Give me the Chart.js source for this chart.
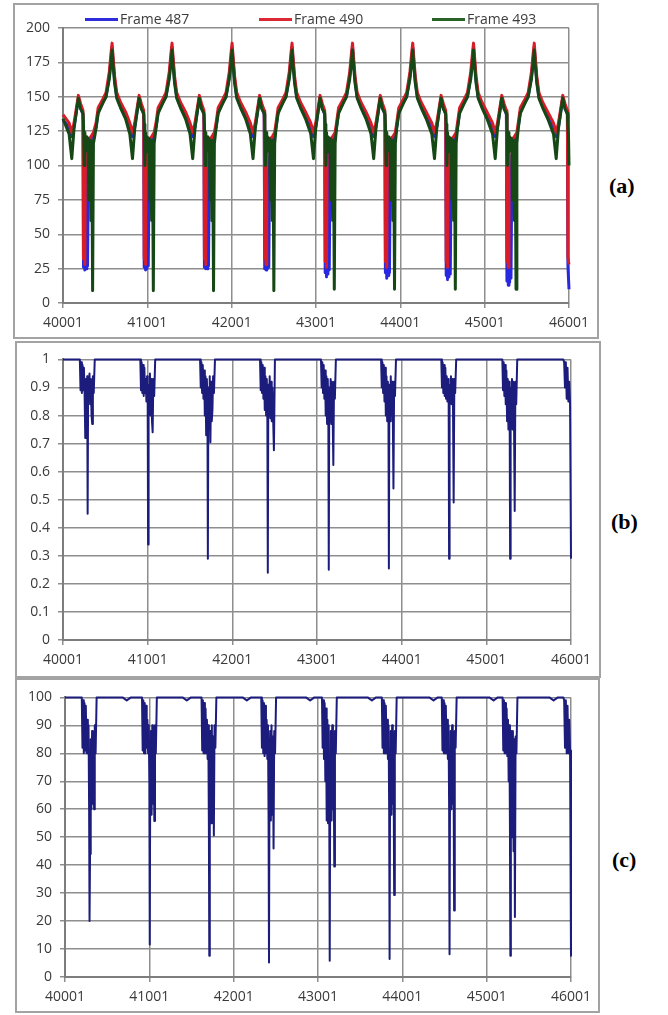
<!DOCTYPE html>
<html>
<head>
<meta charset="utf-8">
<title>Frame comparison</title>
<script src="https://cdn.jsdelivr.net/npm/chart.js@4.4.0/dist/chart.umd.min.js"></script>
<style>
  body { margin: 0; background: #fff; width: 668px; height: 1015px; position: relative; overflow: hidden; font-family: "Open Sans", sans-serif; }
  .box { position: absolute; border: 2px solid #a3a3a3; box-sizing: border-box; }
  canvas { position: absolute; }
  .leg { position: absolute; width: 33px; height: 3px; }
  .legtxt { position: absolute; top: 10px; font-size: 14px; line-height: 18px; color: #3c3c3c; white-space: nowrap; }
  .tag { position: absolute; font: bold 22px "Liberation Serif", "Times New Roman", serif; line-height: 22px; color: #000; }
</style>
</head>
<body>

<div class="box" style="left:13px;top:3px;width:586px;height:336px"></div>
<div class="box" style="left:15px;top:341px;width:586px;height:337px"></div>
<div class="box" style="left:15px;top:678px;width:585px;height:335px"></div>

<canvas id="chartA" width="582" height="332" style="left:15px;top:5px"></canvas>
<canvas id="chartB" width="582" height="333" style="left:17px;top:343px"></canvas>
<canvas id="chartC" width="581" height="330" style="left:17px;top:681px"></canvas>

<!-- legend of panel (a) -->
<div class="leg" style="left:85px;top:18px;background:rgb(45,45,220)"></div>
<span class="legtxt" style="left:120px">Frame 487</span>
<div class="leg" style="left:259px;top:18px;background:rgb(220,40,50)"></div>
<span class="legtxt" style="left:294px">Frame 490</span>
<div class="leg" style="left:432px;top:18px;background:rgb(40,100,40)"></div>
<span class="legtxt" style="left:467px">Frame 493</span>

<div class="tag" style="left:609px;top:175px">(a)</div>
<div class="tag" style="left:611px;top:511px">(b)</div>
<div class="tag" style="left:612px;top:849px">(c)</div>

<script>
// axis ticks
const xTicks = [40001, 41001, 42001, 43001, 44001, 45001, 46001];
const yTicksA = [0, 25, 50, 75, 100, 125, 150, 175, 200];
const yTicksB = [0, 0.1, 0.2, 0.3, 0.4, 0.5, 0.6, 0.7, 0.8, 0.9, 1];
const yTicksC = [0, 10, 20, 30, 40, 50, 60, 70, 80, 90, 100];

// panel (a): frame positions shared by the three frames
const xA = [
  40001, 40073, 40105, 40132, 40183, 40210,
  40238, 40244, 40252, 40260, 40268, 40276, 40284, 40292, 40302, 40312, 40322, 40332, 40342, 40352, 40362,
  40393, 40418, 40471, 40511, 40550, 40571, 40583, 40595, 40613, 40638, 40683, 40743, 40793, 40825, 40852, 40903, 40930,
  40958, 40964, 40972, 40980, 40988, 40996, 41004, 41012, 41022, 41032, 41042, 41052, 41062, 41072, 41082,
  41104, 41129, 41182, 41222, 41261, 41282, 41294, 41306, 41324, 41349, 41394, 41454, 41507, 41539, 41566, 41617, 41644,
  41672, 41678, 41686, 41694, 41702, 41710, 41718, 41726, 41736, 41746, 41756, 41766, 41776, 41786, 41796,
  41816, 41841, 41894, 41934, 41973, 41994, 42006, 42018, 42036, 42061, 42106, 42166, 42222, 42254, 42281, 42332, 42359,
  42387, 42393, 42401, 42409, 42417, 42425, 42433, 42441, 42451, 42461, 42471, 42481, 42491, 42501, 42511,
  42527, 42552, 42605, 42645, 42684, 42705, 42717, 42729, 42747, 42772, 42817, 42877, 42939, 42971, 42998, 43049, 43076,
  43104, 43110, 43118, 43126, 43134, 43142, 43150, 43158, 43168, 43178, 43188, 43198, 43208, 43218, 43228,
  43244, 43269, 43322, 43362, 43401, 43422, 43434, 43446, 43464, 43489, 43534, 43594, 43653, 43685, 43712, 43763, 43790,
  43818, 43824, 43832, 43840, 43848, 43856, 43864, 43872, 43882, 43892, 43902, 43912, 43922, 43932, 43942,
  43958, 43983, 44036, 44076, 44115, 44136, 44148, 44160, 44178, 44203, 44248, 44308, 44374, 44406, 44433, 44484, 44511,
  44539, 44545, 44553, 44561, 44569, 44577, 44585, 44593, 44603, 44613, 44623, 44633, 44643, 44653, 44663,
  44679, 44704, 44757, 44797, 44836, 44857, 44869, 44881, 44899, 44924, 44969, 45029, 45094, 45126, 45153, 45204, 45231,
  45259, 45265, 45273, 45281, 45289, 45297, 45305, 45313, 45323, 45333, 45343, 45353, 45363, 45373, 45383,
  45399, 45424, 45477, 45517, 45556, 45577, 45589, 45601, 45619, 45644, 45689, 45749, 45817, 45849, 45876, 45927, 45954,
  45982, 45988, 45995, 46001
];

const frame487 = [
  133, 128, 121, 128, 149, 142,
  137, 26, 118, 24, 112, 25, 100, 27, 98, 116, 118, 119, 120, 121, 122,
  128, 139, 146, 150, 165, 178, 186, 176, 162, 150, 143, 136, 128, 121, 128, 149, 142,
  137, 26, 118, 24, 112, 25, 100, 27, 98, 116, 118, 119, 120, 121, 122,
  128, 139, 146, 150, 165, 178, 186, 176, 162, 150, 143, 136, 128, 121, 128, 149, 142,
  137, 26, 118, 25, 112, 25, 100, 27, 98, 116, 118, 119, 120, 121, 122,
  128, 139, 146, 150, 165, 178, 186, 176, 162, 150, 143, 136, 128, 121, 128, 149, 142,
  137, 25, 118, 24, 112, 25, 100, 26, 98, 116, 118, 119, 120, 121, 122,
  128, 139, 146, 150, 165, 178, 186, 176, 162, 150, 143, 136, 128, 121, 128, 149, 142,
  137, 22, 115, 19, 110, 21, 98, 24, 98, 116, 118, 119, 120, 121, 122,
  128, 139, 146, 150, 165, 178, 186, 176, 162, 150, 143, 136, 128, 121, 128, 149, 142,
  137, 22, 115, 18, 110, 20, 98, 22, 98, 116, 118, 119, 120, 121, 122,
  128, 139, 146, 150, 165, 178, 186, 176, 162, 150, 143, 136, 128, 121, 128, 149, 142,
  137, 20, 115, 17, 108, 19, 96, 21, 97, 116, 118, 119, 120, 121, 122,
  128, 139, 146, 150, 165, 178, 186, 176, 162, 150, 143, 136, 128, 121, 128, 149, 142,
  137, 16, 112, 13, 108, 15, 95, 18, 97, 116, 118, 119, 120, 121, 122,
  128, 139, 146, 150, 165, 178, 186, 176, 162, 150, 143, 136, 128, 121, 128, 149, 142,
  137, 28, 18, 10
];

const frame490 = [
  137, 131, 124, 131, 151, 145,
  140, 32, 110, 28, 116, 117, 118, 119, 119, 120, 120, 121, 122, 123, 124,
  131, 142, 148, 153, 168, 182, 189, 179, 165, 153, 146, 139, 131, 124, 131, 151, 145,
  140, 32, 110, 28, 116, 117, 118, 119, 119, 120, 120, 121, 122, 123, 124,
  131, 142, 148, 153, 168, 182, 189, 179, 165, 153, 146, 139, 131, 124, 131, 151, 145,
  140, 32, 110, 28, 116, 117, 118, 119, 119, 120, 120, 121, 122, 123, 124,
  131, 142, 148, 153, 168, 182, 189, 179, 165, 153, 146, 139, 131, 124, 131, 151, 145,
  140, 32, 110, 28, 116, 117, 118, 119, 119, 120, 120, 121, 122, 123, 124,
  131, 142, 148, 153, 168, 182, 189, 179, 165, 153, 146, 139, 131, 124, 131, 151, 145,
  140, 30, 108, 26, 115, 117, 118, 119, 119, 120, 120, 121, 122, 123, 124,
  131, 142, 148, 153, 168, 182, 189, 179, 165, 153, 146, 139, 131, 124, 131, 151, 145,
  140, 30, 108, 26, 115, 117, 118, 119, 119, 120, 120, 121, 122, 123, 124,
  131, 142, 148, 153, 168, 182, 189, 179, 165, 153, 146, 139, 131, 124, 131, 151, 145,
  140, 30, 106, 26, 114, 117, 118, 119, 119, 120, 120, 121, 122, 123, 124,
  131, 142, 148, 153, 168, 182, 189, 179, 165, 153, 146, 139, 131, 124, 131, 151, 145,
  140, 30, 106, 26, 114, 117, 118, 119, 119, 120, 120, 121, 122, 123, 124,
  131, 142, 148, 153, 168, 182, 189, 179, 165, 153, 146, 139, 131, 124, 131, 151, 145,
  140, 34, 30, 28
];

const frame493 = [
  134, 123, 105, 127, 149, 141,
  138, 130, 100, 124, 110, 121, 118, 120, 119, 75, 118, 60, 118, 9, 116,
  127, 138, 145, 150, 163, 175, 184, 173, 160, 149, 142, 134, 123, 105, 127, 149, 141,
  138, 130, 100, 124, 110, 121, 118, 120, 119, 75, 118, 60, 118, 9, 116,
  127, 138, 145, 150, 163, 175, 184, 173, 160, 149, 142, 134, 123, 105, 127, 149, 141,
  138, 130, 100, 124, 110, 121, 118, 120, 119, 75, 118, 60, 118, 9, 116,
  127, 138, 145, 150, 163, 175, 184, 173, 160, 149, 142, 134, 123, 105, 127, 149, 141,
  138, 130, 100, 124, 110, 121, 118, 120, 119, 75, 118, 60, 118, 9, 116,
  127, 138, 145, 150, 163, 175, 184, 173, 160, 149, 142, 134, 123, 105, 127, 149, 141,
  138, 130, 100, 124, 110, 121, 118, 120, 119, 75, 118, 60, 118, 10, 116,
  127, 138, 145, 150, 163, 175, 184, 173, 160, 149, 142, 134, 123, 105, 127, 149, 141,
  138, 130, 100, 124, 110, 121, 118, 120, 119, 75, 118, 60, 118, 10, 116,
  127, 138, 145, 150, 163, 175, 184, 173, 160, 149, 142, 134, 123, 105, 127, 149, 141,
  138, 130, 100, 124, 110, 121, 118, 120, 119, 75, 118, 60, 118, 10, 116,
  127, 138, 145, 150, 163, 175, 184, 173, 160, 149, 142, 134, 123, 105, 127, 149, 141,
  138, 130, 100, 124, 110, 121, 118, 120, 119, 75, 118, 60, 118, 10, 116,
  127, 138, 145, 150, 163, 175, 184, 173, 160, 149, 142, 134, 123, 105, 127, 149, 141,
  138, 130, 122, 100
];

// panels (b) and (c): frame positions shared by both
const xBC = [
  40001,
  40200, 40208, 40216, 40224, 40232, 40240, 40248, 40256, 40264, 40272, 40280, 40287, 40292, 40298, 40306, 40314, 40322, 40330, 40338, 40346, 40354, 40364, 40376,
  40683, 40733, 40783,
  40914, 40922, 40930, 40938, 40946, 40954, 40962, 40970, 40978, 40986, 40994, 41001, 41006, 41012, 41020, 41028, 41036, 41044, 41052, 41060, 41068, 41078, 41090,
  41395, 41445, 41495,
  41620, 41628, 41636, 41644, 41652, 41660, 41668, 41676, 41684, 41692, 41700, 41707, 41712, 41718, 41726, 41734, 41742, 41750, 41758, 41766, 41774, 41784, 41796,
  42107, 42157, 42207,
  42328, 42336, 42344, 42352, 42360, 42368, 42376, 42384, 42392, 42400, 42408, 42415, 42420, 42426, 42434, 42442, 42450, 42458, 42466, 42474, 42482, 42492, 42504,
  42858, 42908, 42958,
  43048, 43056, 43064, 43072, 43080, 43088, 43096, 43104, 43112, 43120, 43128, 43135, 43140, 43146, 43154, 43162, 43170, 43178, 43186, 43194, 43202, 43212, 43224,
  43590, 43640, 43690,
  43758, 43766, 43774, 43782, 43790, 43798, 43806, 43814, 43822, 43830, 43838, 43845, 43850, 43856, 43864, 43872, 43880, 43888, 43896, 43904, 43912, 43922, 43934,
  44321, 44371, 44421,
  44469, 44477, 44485, 44493, 44501, 44509, 44517, 44525, 44533, 44541, 44549, 44556, 44561, 44567, 44575, 44583, 44591, 44599, 44607, 44615, 44623, 44633, 44645,
  45033, 45083, 45133,
  45190, 45198, 45206, 45214, 45222, 45230, 45238, 45246, 45254, 45262, 45270, 45277, 45282, 45288, 45296, 45304, 45312, 45320, 45328, 45336, 45344, 45354, 45366,
  45745, 45795, 45845,
  45910, 45920, 45930, 45940, 45950, 45960, 45970, 45980, 45990, 46001
];

const similarityB = [
  1.0,
  1.0, 0.89, 0.99, 0.88, 0.98, 0.89, 0.97, 0.88, 0.72, 0.93, 0.86, 0.94, 0.45, 0.92, 0.86, 0.95, 0.84, 0.93, 0.80, 0.77, 0.94, 0.88, 1.0,
  1.0, 1.0, 1.0,
  1.0, 0.89, 0.99, 0.88, 0.98, 0.87, 0.97, 0.88, 0.93, 0.85, 0.94, 0.87, 0.34, 0.91, 0.82, 0.95, 0.80, 0.93, 0.78, 0.74, 0.93, 0.87, 1.0,
  1.0, 1.0, 1.0,
  1.0, 0.90, 0.99, 0.88, 0.98, 0.86, 0.96, 0.80, 0.94, 0.73, 0.93, 0.85, 0.29, 0.90, 0.80, 0.94, 0.705, 0.92, 0.78, 0.82, 0.94, 0.88, 1.0,
  1.0, 1.0, 1.0,
  1.0, 0.89, 0.99, 0.88, 0.98, 0.86, 0.97, 0.82, 0.94, 0.80, 0.93, 0.78, 0.24, 0.91, 0.80, 0.94, 0.79, 0.92, 0.78, 0.90, 0.80, 0.676, 1.0,
  1.0, 1.0, 1.0,
  1.0, 0.90, 0.99, 0.88, 0.98, 0.86, 0.96, 0.80, 0.94, 0.77, 0.93, 0.80, 0.25, 0.90, 0.78, 0.93, 0.77, 0.92, 0.80, 0.624, 0.92, 0.86, 1.0,
  1.0, 1.0, 1.0,
  1.0, 0.90, 0.99, 0.88, 0.98, 0.85, 0.97, 0.80, 0.94, 0.78, 0.92, 0.80, 0.255, 0.91, 0.78, 0.94, 0.80, 0.92, 0.82, 0.54, 0.92, 0.87, 1.0,
  1.0, 1.0, 1.0,
  1.0, 0.90, 0.99, 0.88, 0.98, 0.87, 0.97, 0.86, 0.94, 0.85, 0.93, 0.86, 0.29, 0.91, 0.85, 0.94, 0.84, 0.93, 0.85, 0.49, 0.93, 0.88, 1.0,
  1.0, 1.0, 1.0,
  1.0, 0.89, 0.99, 0.87, 0.98, 0.84, 0.96, 0.78, 0.93, 0.75, 0.92, 0.77, 0.29, 0.90, 0.76, 0.93, 0.75, 0.92, 0.78, 0.46, 0.92, 0.84, 1.0,
  1.0, 1.0, 1.0,
  1.0, 0.99, 0.90, 0.99, 0.86, 0.97, 0.85, 0.92, 0.84, 0.29
];

const percentC = [
  100,
  100, 82, 99, 80, 98, 81, 97, 80, 92, 80, 90, 60, 20, 44, 85, 60, 88, 62, 86, 60, 90, 80, 100,
  100, 98.9, 100,
  100, 81, 99, 80, 98, 80, 97, 82, 92, 80, 90, 70, 11.6, 75, 88, 58, 90, 62, 87, 55.8, 90, 80, 100,
  100, 98.9, 100,
  100, 81, 99, 80, 98, 80, 96, 80, 92, 78, 90, 55, 7.6, 70, 88, 55, 90, 60, 86, 50.6, 90, 82, 100,
  100, 98.9, 100,
  100, 82, 99, 80, 98, 79, 97, 80, 92, 78, 90, 56, 5.2, 70, 88, 56, 90, 58, 86, 46, 88, 80, 100,
  100, 98.9, 100,
  100, 82, 99, 78, 98, 70, 96, 56, 92, 55, 90, 56, 5.8, 70, 88, 56, 90, 60, 85, 39.5, 88, 80, 100,
  100, 98.9, 100,
  100, 82, 99, 80, 98, 80, 97, 80, 92, 78, 90, 60, 6.4, 72, 88, 58, 90, 62, 86, 29.3, 88, 80, 100,
  100, 98.9, 100,
  100, 81, 99, 80, 98, 80, 97, 80, 92, 78, 90, 60, 8.1, 72, 88, 60, 90, 62, 86, 23.8, 88, 82, 100,
  100, 98.9, 100,
  100, 81, 99, 80, 98, 80, 96, 79, 92, 70, 90, 55, 7.6, 60, 88, 50, 88, 45, 85, 21.5, 86, 80, 100,
  100, 98.9, 100,
  100, 99, 82, 99, 80, 97, 80, 92, 81, 7.6
];

const gridColor = '#8e8e8e';
const axisColor = '#7d7d7d';
const tickFont = { family: '"Open Sans", sans-serif', size: 14 };
const tickColor = '#3a3a3a';
const navy = 'rgb(28,28,125)';

function toPoints(xs, ys) {
    return xs.map((x, i) => ({ x: x, y: ys[i] }));
}

// xHeight: room under the plot for the tick labels (labels are clipped to it)
function makeChart(id, datasets, yTicks, yLabel, pad, xHeight) {
    return new Chart(document.getElementById(id), {
        type: 'line',
        data: { datasets: datasets },
        options: {
            responsive: false,
            animation: false,
            events: [],
            parsing: false,
            normalized: true,
            layout: { padding: pad },
            plugins: { legend: { display: false }, tooltip: { enabled: false } },
            elements: { point: { radius: 0 }, line: { tension: 0, borderJoinStyle: 'round' } },
            scales: {
                x: {
                    type: 'linear',
                    min: 40001,
                    max: 46001,
                    afterBuildTicks: s => { s.ticks = xTicks.map(v => ({ value: v })); },
                    afterFit: s => { s.height = xHeight; },
                    grid: { color: gridColor, lineWidth: 1.5, tickLength: 5 },
                    border: { color: axisColor, width: 2 },
                    ticks: { font: tickFont, color: tickColor, padding: 7, maxRotation: 0, autoSkip: false, callback: v => String(v) }
                },
                y: {
                    type: 'linear',
                    min: yTicks[0],
                    max: yTicks[yTicks.length - 1],
                    afterBuildTicks: s => { s.ticks = yTicks.map(v => ({ value: v })); },
                    afterFit: s => { s.width = 44; },
                    grid: { color: gridColor, lineWidth: 1.5, tickLength: 5 },
                    border: { color: axisColor, width: 2 },
                    ticks: { font: tickFont, color: tickColor, padding: 8, callback: yLabel }
                }
            }
        }
    });
}

// (a) three frames, green drawn on top
makeChart('chartA', [
    { label: 'Frame 487', data: toPoints(xA, frame487), borderColor: 'rgb(40,40,225)', borderWidth: 3, order: 3, clip: 5 },
    { label: 'Frame 490', data: toPoints(xA, frame490), borderColor: 'rgb(215,30,40)', borderWidth: 3, order: 2, clip: 5 },
    { label: 'Frame 493', data: toPoints(xA, frame493), borderColor: 'rgb(22,72,22)', borderWidth: 3, order: 1, clip: 5 }
], yTicksA, v => String(v), { top: 23, right: 28, bottom: 0, left: 4 }, 34);

// (b)
makeChart('chartB', [
    { data: toPoints(xBC, similarityB), borderColor: navy, borderWidth: 2, clip: 5 }
], yTicksB, v => String(Math.round(v * 10) / 10), { top: 9, right: 28, bottom: 0, left: 2 }, 36);

// (c)
makeChart('chartC', [
    { data: toPoints(xBC, percentC), borderColor: navy, borderWidth: 2, clip: 5 }
], yTicksC, v => String(v), { top: 9, right: 27, bottom: 0, left: 4 }, 34);
</script>
</body>
</html>
